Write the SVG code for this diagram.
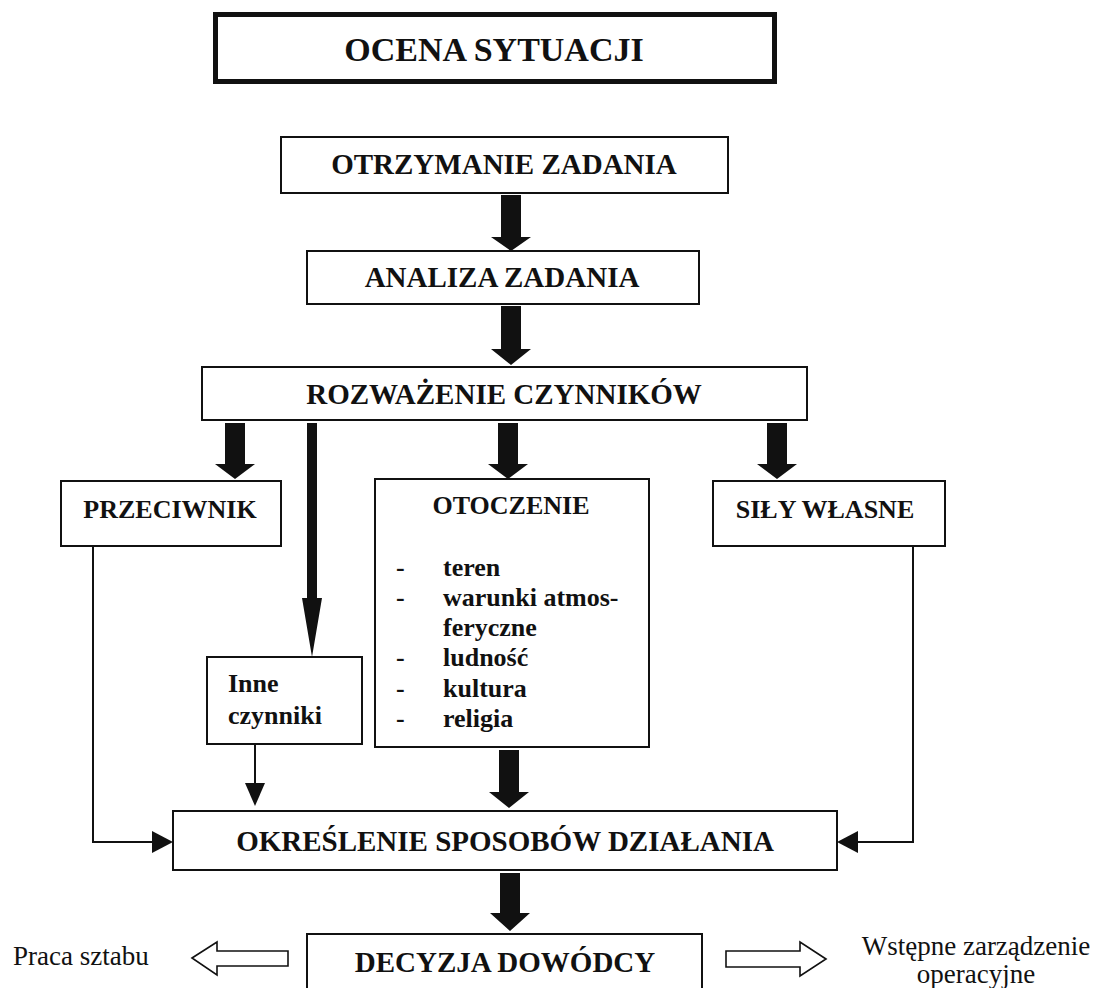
<svg xmlns="http://www.w3.org/2000/svg" width="1095" height="988" viewBox="0 0 1095 988">
<style>
.box{fill:#fff;stroke:#111;stroke-width:2}
.t{font-family:"Liberation Serif","Times New Roman",serif;font-weight:bold;fill:#111}
.c{text-anchor:middle}
.r{font-family:"Liberation Serif","Times New Roman",serif;fill:#111;font-size:27px}
.big{fill:#111}
.ln{fill:none;stroke:#111;stroke-width:2}
.hol{fill:#fff;stroke:#111;stroke-width:1.6;stroke-linejoin:miter}
</style>
<rect width="1095" height="988" fill="#fff"/>
<g id="ocena">
<rect x="215.5" y="14.5" width="559" height="67" fill="#fff" stroke="#111" stroke-width="5"/>
<text class="t c" x="494" y="61" font-size="34">OCENA SYTUACJI</text>
</g>
<g id="otrzymanie">
<rect class="box" x="281" y="137" width="447" height="56"/>
<text class="t c" x="504" y="174" font-size="29">OTRZYMANIE ZADANIA</text>
</g>
<g id="analiza">
<rect class="box" x="307" y="251" width="392" height="53"/>
<text class="t c" x="502" y="287" font-size="29">ANALIZA ZADANIA</text>
</g>
<g id="rozwazenie">
<rect class="box" x="202" y="367" width="605" height="53"/>
<text class="t c" x="504" y="404" font-size="29">ROZWAŻENIE CZYNNIKÓW</text>
</g>
<g id="przeciwnik">
<rect class="box" x="61" y="481" width="220" height="65"/>
<text class="t c" x="170" y="518" font-size="26">PRZECIWNIK</text>
</g>
<g id="otoczenie">
<rect class="box" x="375" y="479" width="274" height="268"/>
<text class="t c" x="511" y="514" font-size="26">OTOCZENIE</text>
<g class="t" font-size="26">
<text x="396" y="576">-</text><text x="443" y="576">teren</text>
<text x="396" y="606">-</text><text x="443" y="606">warunki atmos-</text>
<text x="443" y="636">feryczne</text>
<text x="396" y="666">-</text><text x="443" y="666">ludność</text>
<text x="396" y="697">-</text><text x="443" y="697">kultura</text>
<text x="396" y="727">-</text><text x="443" y="727">religia</text>
</g>
</g>
<g id="sily">
<rect class="box" x="713" y="481" width="232" height="65"/>
<text class="t c" x="825" y="518" font-size="26">SIŁY WŁASNE</text>
</g>
<g id="inne">
<rect class="box" x="207" y="657" width="155" height="87"/>
<text class="t" x="228" y="692" font-size="26">Inne</text>
<text class="t" x="228" y="724" font-size="26">czynniki</text>
</g>
<g id="okreslenie">
<rect class="box" x="173" y="811" width="664" height="59"/>
<text class="t c" x="505" y="851" font-size="29">OKREŚLENIE SPOSOBÓW DZIAŁANIA</text>
</g>
<g id="decyzja">
<rect class="box" x="307" y="934" width="395" height="60"/>
<text class="t c" x="505" y="972" font-size="29">DECYZJA DOWÓDCY</text>
</g>
<g id="praca">
<text class="r" x="13" y="965">Praca sztabu</text>
</g>
<g id="wstepne">
<text class="r c" x="976" y="955">Wstępne zarządzenie</text>
<text class="r c" x="976" y="983">operacyjne</text>
</g>
<g id="connectors">
<path class="big" d="M501,195H521V237H531L511,251L491,237H501Z"/>
<path class="big" d="M501,306H521V349H531L511,365L491,349H501Z"/>
<path class="big" d="M225,423H245V464H255L235,479L215,464H225Z"/>
<path class="big" d="M498,423H518V464H528L508,479L488,464H498Z"/>
<path class="big" d="M767,423H787V464H797L777,479L757,464H767Z"/>
<path class="big" d="M499,750H519V792H529L509,808L489,792H499Z"/>
<path class="big" d="M500,873H520V913H530L510,931L490,913H500Z"/>
<path class="big" d="M307,423H317V598H322L312,657L302,598H307Z"/>
<line class="ln" x1="255" y1="744" x2="255" y2="784"/>
<path class="big" d="M245,783H265L255,806Z"/>
<polyline class="ln" points="93,546 93,842 153,842"/>
<path class="big" d="M152,831L173,842L152,853Z"/>
<polyline class="ln" points="913,546 913,842 857,842"/>
<path class="big" d="M858,831L837,842L858,853Z"/>
<path class="hol" d="M192,958L217,942V951H288V966H217V975Z"/>
<path class="hol" d="M826,959L800,942V951H726V967H800V976Z"/>
</g>
</svg>
